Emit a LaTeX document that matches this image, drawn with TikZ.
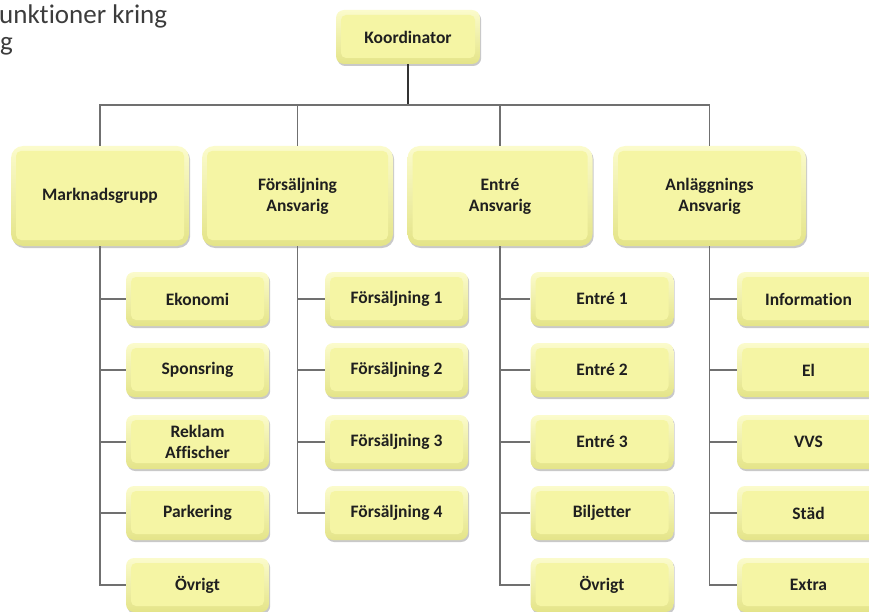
\documentclass[tikz,border=0pt]{standalone}
\usepackage{fontspec}
\setmainfont{Carlito}[Ligatures={NoCommon}]
\usetikzlibrary{shadows}
\definecolor{boxfill}{HTML}{F5F5A4}
\definecolor{boxlight}{HTML}{FBFBCC}
\definecolor{boxdark}{HTML}{E4E488}
\definecolor{linegray}{HTML}{707070}
\definecolor{titlegray}{HTML}{3C3C3C}
\begin{document}
\begin{tikzpicture}[x=1pt,y=1pt,
  box/.style={top color=boxlight, bottom color=boxdark, draw=none, align=center,
    font=\bfseries\fontsize{17.5}{21}\selectfont, text=black!88, inner sep=0pt,
    drop shadow={shadow xshift=1.2pt, shadow yshift=-2pt, opacity=0.3, fill=black!70},
    path picture={\fill[boxfill, rounded corners=5pt]
      ([shift={(5pt,-5pt)}]path picture bounding box.north west) rectangle
      ([shift={(-5pt,6pt)}]path picture bounding box.south east);}},
  topbox/.style={box, minimum height=100, rounded corners=12pt},
  kid/.style={box, minimum width=143, minimum height=54, rounded corners=8pt},
  conn/.style={draw=linegray, line width=1.1pt},
  title/.style={anchor=base west, inner sep=0pt, font=\fontsize{27}{28}\selectfont, text=titlegray}
]
\useasboundingbox (0,0) rectangle (869,-612);

\node[title] (t1) at (-1,-24) {unktioner kring};
\node[title] (t2) at (0,-51) {g};

\node[kid, minimum width=144] (ko) at (408,-37) {Koordinator};

\node[topbox, minimum width=178] (mk) at (100,-196) {Marknadsgrupp};
\node[topbox, minimum width=191] (fa) at (297.5,-196) {Försäljning\\Ansvarig};
\node[topbox, minimum width=185] (en) at (500,-196) {Entré\\Ansvarig};
\node[topbox, minimum width=193] (an) at (709.5,-196) {Anläggnings\\Ansvarig};

% Marknadsgrupp children
\node[kid] (mk1) at (197.5,-299) {Ekonomi};
\node[kid] (mk2) at (197.5,-370) {Sponsring};
\node[kid] (mk3) at (197.5,-442) {Reklam\\Affischer};
\node[kid] (mk4) at (197.5,-513) {Parkering};
\node[kid] (mk5) at (197.5,-585) {Övrigt};
% Försäljning children
\node[kid] (fa1) at (396.5,-299) {Försäljning 1};
\node[kid] (fa2) at (396.5,-370) {Försäljning 2};
\node[kid] (fa3) at (396.5,-442) {Försäljning 3};
\node[kid] (fa4) at (396.5,-513) {Försäljning 4};
% Entré children
\node[kid] (en1) at (602,-299) {Entré 1};
\node[kid] (en2) at (602,-370) {Entré 2};
\node[kid] (en3) at (602,-442) {Entré 3};
\node[kid] (en4) at (602,-513) {Biljetter};
\node[kid] (en5) at (602,-585) {Övrigt};
% Anläggnings children
\node[kid] (an1) at (808.5,-299) {Information};
\node[kid] (an2) at (808.5,-370) {El};
\node[kid] (an3) at (808.5,-442) {VVS};
\node[kid] (an4) at (808.5,-513) {Städ};
\node[kid] (an5) at (808.5,-585) {Extra};

% connectors top
\coordinate (bus) at (408,-105);
\draw[draw=black!80, line width=1.1pt] (ko.south) -- (bus);
\draw[conn] (bus) -| (mk.north);
\draw[conn] (bus) -| (fa.north);
\draw[conn] (bus) -| (en.north);
\draw[conn] (bus) -| (an.north);

% connectors children
\foreach \c in {mk1,mk2,mk3,mk4,mk5} \draw[conn] (mk.south) |- (\c.west);
\foreach \c in {fa1,fa2,fa3,fa4} \draw[conn] (fa.south) |- (\c.west);
\foreach \c in {en1,en2,en3,en4,en5} \draw[conn] (en.south) |- (\c.west);
\foreach \c in {an1,an2,an3,an4,an5} \draw[conn] (an.south) |- (\c.west);
\end{tikzpicture}
\end{document}
